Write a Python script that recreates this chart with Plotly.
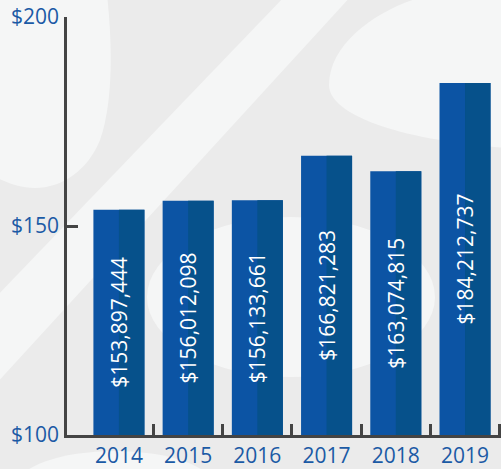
import plotly.graph_objects as go

years = ["2014", "2015", "2016", "2017", "2018", "2019"]
revenue = [153897444, 156012098, 156133661, 166821283, 163074815, 184212737]  # dollars
y_ticks = [100, 150, 200]
y_tick_labels = ["$100", "$150", "$200"]

LEFT = "#0c54a4"
RIGHT = "#06518b"
LABEL = "#1b5aa5"
AXIS = "#444444"
LIGHT = "#f5f6f6"
GRAY = "#ebebeb"

idx = list(range(len(years)))
millions = [v / 1e6 for v in revenue]
heights = [m - 100 for m in millions]
labels = ["${:,}".format(v) for v in revenue]

W, H = 501, 469
ML, MR, MT, MB = 67, 0, 17, 34
PW, PH = W - ML - MR, H - MT - MB


def px(x, y):
    return (x - ML) / PW, (H - MB - y) / PH


def path(cmds):
    out = []
    for c in cmds:
        if isinstance(c, str):
            out.append(c)
        else:
            a, b = px(*c)
            out.append(f"{a:.4f},{b:.4f}")
    return " ".join(out)


shapes = []
# top-left light region
shapes.append(dict(type="path", xref="paper", yref="paper", layer="below",
                   fillcolor=LIGHT, line_width=0,
                   path=path(["M", (-5, -5), "L", (107, -5), "C", (112, 40), (114, 100), (100, 140),
                              "C", (88, 170), (62, 188), (35, 188), "C", (20, 188), (8, 183), (-5, 177), "Z"])))
# diagonal light band
shapes.append(dict(type="path", xref="paper", yref="paper", layer="below",
                   fillcolor=LIGHT, line_width=0,
                   path=path(["M", (286, -5), "L", (-5, 298), "L", (-5, 385), "L", (352, -5), "Z"])))
# right light ellipse
shapes.append(dict(type="path", xref="paper", yref="paper", layer="below",
                   fillcolor=LIGHT, line_width=0,
                   path=path(["M", (430, -5), "C", (385, 5), (329, 40), (329, 85),
                              "C", (329, 115), (400, 140), (506, 148), "L", (506, -5), "Z"])))
# middle light blob
x0, y0 = px(147, 217)
x1, y1 = px(435, 377)
shapes.append(dict(type="circle", xref="paper", yref="paper", layer="below",
                   fillcolor=LIGHT, line_width=0, x0=x0, y0=y0, x1=x1, y1=y1))
# bottom light ellipse
x0, y0 = px(15, 451)
x1, y1 = px(215, 525)
shapes.append(dict(type="circle", xref="paper", yref="paper", layer="below",
                   fillcolor=LIGHT, line_width=0, x0=x0, y0=y0, x1=x1, y1=y1))

BW = 0.737
fig = go.Figure()
fig.add_trace(go.Bar(x=idx, y=heights, base=100, width=BW, offset=-BW / 2,
                     marker=dict(color=LEFT, line_width=0), hoverinfo="skip"))
fig.add_trace(go.Bar(x=idx, y=heights, base=100, width=BW / 2, offset=0,
                     marker=dict(color=RIGHT, line_width=0), hoverinfo="skip"))
fig.add_trace(go.Bar(x=idx, y=heights, base=100, width=BW, offset=-BW / 2,
                     marker=dict(color="rgba(0,0,0,0)", line_width=0),
                     text=labels, textposition="inside", insidetextanchor="middle",
                     textangle=-90, textfont=dict(family="Open Sans", size=21, color="white"),
                     hoverinfo="skip"))

fig.update_layout(
    width=W, height=H,
    margin=dict(l=ML, r=MR, t=MT, b=MB, pad=0, autoexpand=False),
    barmode="overlay",
    showlegend=False,
    paper_bgcolor=GRAY,
    plot_bgcolor="rgba(0,0,0,0)",
    font=dict(family="Open Sans", size=21, color=LABEL),
    shapes=shapes,
    xaxis=dict(range=[-0.75, 5.52], tickmode="array", tickvals=idx, ticktext=years,
               ticks="", showline=True, linecolor=AXIS, linewidth=2.5,
               showgrid=False, zeroline=False, fixedrange=True, automargin=False,
               tickfont=dict(family="Open Sans", size=21, color=LABEL),
               minor=dict(tickmode="array", tickvals=[i + 0.5 for i in idx],
                          ticks="inside", ticklen=11, tickwidth=2.5, tickcolor=AXIS,
                          showgrid=False)),
    yaxis=dict(range=[100, 200], tickmode="array", tickvals=y_ticks, ticktext=y_tick_labels,
               ticks="inside", ticklen=11, tickwidth=2.5, tickcolor=AXIS,
               showline=True, linecolor=AXIS, linewidth=2.5,
               showgrid=False, zeroline=False, fixedrange=True, automargin=False,
               tickfont=dict(family="Open Sans", size=21, color=LABEL),
               ticklabelstandoff=1),
)

fig.write_html("out.html", config={"displayModeBar": False},
               post_script="document.body.style.margin='0';document.body.style.overflow='hidden';")
